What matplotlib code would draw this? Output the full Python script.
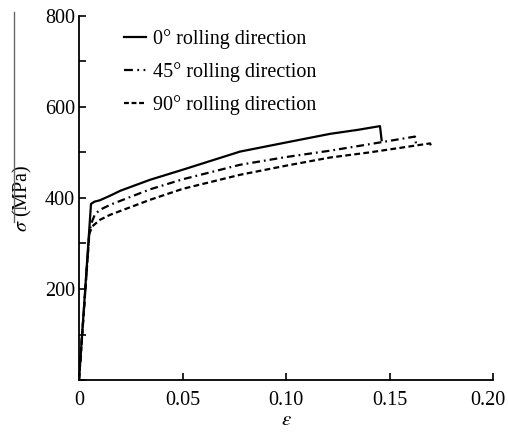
import matplotlib
matplotlib.use("Agg")
import matplotlib.pyplot as plt
from matplotlib.lines import Line2D
from matplotlib.ticker import MultipleLocator, FuncFormatter

# strain / stress
eps_0 = [0, 0.0058, 0.0075, 0.0101, 0.015, 0.020, 0.0343, 0.050, 0.0778, 0.100, 0.1213, 0.135, 0.1454, 0.1462]
sig_0 = [0, 387, 392, 395, 405, 416, 440, 462, 502, 522, 541, 550, 558, 527]

eps_45 = [0, 0.0050, 0.0060, 0.0077, 0.0101, 0.015, 0.0343, 0.050, 0.0778, 0.100, 0.1213, 0.140, 0.1623, 0.1628]
sig_45 = [0, 325, 345, 364, 374, 385, 419, 441, 473, 490, 504, 518, 535, 520]

eps_90 = [0, 0.0050, 0.0065, 0.0101, 0.015, 0.0343, 0.050, 0.0778, 0.100, 0.1213, 0.140, 0.1696, 0.1704]
sig_90 = [0, 322, 338, 352, 363, 396, 420, 451, 471, 489, 500, 520, 511]

labels = ["0° rolling direction", "45° rolling direction", "90° rolling direction"]

plt.rcParams['font.family'] = ['Liberation Serif', 'DejaVu Serif']
plt.rcParams['mathtext.fontset'] = 'stix'

fig = plt.figure(figsize=(5.08, 4.33), dpi=100)
ax = fig.add_axes([79/508, 1 - 380/433, (493 - 79)/508, (380 - 16)/433])

ls_45 = (0, (3.5, 1.8, 0.8, 1.8))
ls_90 = (0, (2.6, 1.5))
ax.plot(eps_0, sig_0, color='black', lw=1.6, ls='-')
ax.plot(eps_45, sig_45, color='black', lw=1.6, ls=ls_45)
ax.plot(eps_90, sig_90, color='black', lw=1.6, ls=ls_90)

ax.set_xlim(0, 0.20)
ax.set_ylim(0, 800)
ax.xaxis.set_major_locator(MultipleLocator(0.05))
ax.yaxis.set_major_locator(MultipleLocator(200))
ax.yaxis.set_minor_locator(MultipleLocator(100))

def xfmt(v, pos):
    if abs(v) < 1e-9:
        return "0"
    if abs(v - 0.20) < 1e-9:
        return ""  # drawn separately so it stays inside the figure
    return f"{v:.2f}"

def yfmt(v, pos):
    return "" if abs(v) < 1e-9 else f"{v:.0f}"

ax.xaxis.set_major_formatter(FuncFormatter(xfmt))
ax.yaxis.set_major_formatter(FuncFormatter(yfmt))
ax.tick_params(which='both', direction='in', labelsize=14.5, width=1.2)
ax.tick_params(which='major', length=5)
ax.tick_params(which='minor', length=5)
ax.tick_params(axis='x', pad=8)
ax.tick_params(axis='y', pad=3)

ax.annotate("0.20", xy=(0.20, 0), xycoords=('data', 'axes fraction'),
            xytext=(-4, -8), textcoords='offset points', ha='center', va='top',
            fontsize=14.5, annotation_clip=False)

for side in ['top', 'right']:
    ax.spines[side].set_visible(False)
for side in ['left', 'bottom']:
    ax.spines[side].set_linewidth(1.3)

ax.set_xlabel(r'$\varepsilon$', fontsize=15)
ax.xaxis.set_label_coords(0.5, -0.085)
ax.set_ylabel(r'$\sigma$' + ' (MPa)', fontsize=14.5)
ax.yaxis.set_label_coords(-0.108, 0.5)

# bar over the y label
fig.add_artist(Line2D([14/508, 14/508], [1 - 222/433, 1 - 12/433], color='#666666', lw=1.0))

handles = [Line2D([], [], color='black', lw=1.6, ls='-'),
           Line2D([], [], color='black', lw=1.6, ls=(0, (4, 2, 0.8, 2, 0.8, 2))),
           Line2D([], [], color='black', lw=1.6, ls=(0, (2.2, 1.2)))]
ax.legend(handles, labels, loc='upper left', bbox_to_anchor=(0.065, 1.015), frameon=False,
          fontsize=14.5, handlelength=1.1, handletextpad=0.35, labelspacing=0.65)

fig.savefig('out.png', dpi=100)
